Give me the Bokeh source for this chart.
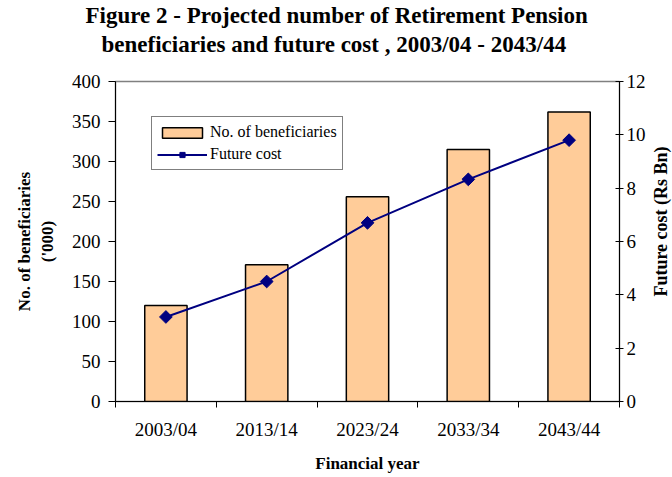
import math
from bokeh.plotting import figure
from bokeh.models import (Range1d, LinearAxis, FixedTicker, Title, Label, Legend, LegendItem,
                          ColumnDataSource)
from bokeh.embed import file_html
from bokeh.resources import INLINE

# ---- data ----
years = ["2003/04", "2013/14", "2023/24", "2033/34", "2043/44"]
beneficiaries = [120, 171, 256, 315, 362]          # '000
future_cost = [3.17, 4.5, 6.7, 8.33, 9.8]          # Rs Bn
left_ticks = [0, 50, 100, 150, 200, 250, 300, 350, 400]
right_ticks = [0, 2, 4, 6, 8, 10, 12]

title_1 = "Figure 2 - Projected number of Retirement Pension"
title_2 = "beneficiaries and future cost , 2003/04 - 2043/44"
left_title = "No. of beneficiaries\n('000)"
right_title = "Future cost (Rs Bn)"

FONT = "Liberation Serif"

idx = list(range(len(years)))
src = ColumnDataSource(dict(x=idx, year=years, ben=beneficiaries, cost=future_cost))

p = figure(width=672, height=477, frame_width=504, frame_height=320,
           output_backend="svg", toolbar_location=None,
           x_range=Range1d(-0.5, len(years) - 0.5), y_range=Range1d(0, 400),
           min_border_left=115, min_border_top=10, min_border_right=53, min_border_bottom=60)
p.extra_y_ranges = {"cost": Range1d(0, 12)}

p.background_fill_color = "white"
p.border_fill_color = "white"
p.outline_line_color = "#808080"
p.outline_line_width = 1.5
p.xgrid.visible = False
p.ygrid.visible = False

bars = p.vbar(x="x", top="ben", width=0.42, source=src,
              fill_color="#FFCC99", line_color="black", line_width=1.5)
ln = p.line(x="x", y="cost", source=src, y_range_name="cost",
            line_color="#000080", line_width=2)
mk = p.scatter(x="x", y="cost", source=src, y_range_name="cost",
               marker="square", angle=math.pi / 4, size=9,
               fill_color="#000080", line_color="#000080")

# x axis
xa = p.xaxis[0]
xa.ticker = FixedTicker(ticks=idx, minor_ticks=[i - 0.5 for i in range(len(years) + 1)])
xa.major_label_overrides = {i: y for i, y in zip(idx, years)}
xa.major_tick_out = 0
xa.major_tick_in = 0
xa.minor_tick_out = 6
xa.minor_tick_in = 0
xa.minor_tick_line_color = "black"
xa.axis_line_color = "black"
xa.major_label_standoff = 11
xa.major_label_text_font = FONT
xa.major_label_text_font_size = "19px"
xa.major_label_text_color = "black"
xa.axis_label = "Financial year"
xa.axis_label_text_font = FONT
xa.axis_label_text_font_size = "17px"
xa.axis_label_text_font_style = "bold"
xa.axis_label_text_color = "black"
xa.axis_label_standoff = 11

# left axis
ya = p.yaxis[0]
ya.ticker = FixedTicker(ticks=left_ticks)
ya.minor_tick_line_color = None
ya.major_tick_out = 7
ya.major_tick_in = 0
ya.major_tick_line_color = "black"
ya.axis_line_color = "black"
ya.major_label_standoff = 8
ya.major_label_text_font = FONT
ya.major_label_text_font_size = "19px"
ya.major_label_text_color = "black"
ya.axis_label = left_title
ya.axis_label_text_font = FONT
ya.axis_label_text_font_size = "17px"
ya.axis_label_text_font_style = "bold"
ya.axis_label_text_color = "black"
ya.axis_label_standoff = 12

# right axis (ticks + numbers)
ra = LinearAxis(y_range_name="cost", ticker=FixedTicker(ticks=right_ticks))
ra.minor_tick_line_color = None
ra.major_tick_out = 4
ra.major_tick_in = 4
ra.major_tick_line_color = "black"
ra.axis_line_color = "black"
ra.major_label_standoff = 3
ra.major_label_text_font = FONT
ra.major_label_text_font_size = "19px"
ra.major_label_text_color = "black"
p.add_layout(ra, "right")

# right axis title, reading bottom-to-top, in the right-hand panel
p.add_layout(Label(x=12, y=180, x_units="screen", y_units="screen", angle=math.pi / 2,
                   text=right_title, text_font=FONT, text_font_size="18px",
                   text_font_style="bold", text_color="black",
                   text_align="center", text_baseline="middle"), "right")

# title lines (first added = nearest the plot)
p.add_layout(Title(text=" ", text_font_size="1px", standoff=20), "above")
p.add_layout(Title(text=title_2, text_font=FONT, text_font_size="23px", text_font_style="bold",
                   text_color="black", align="left", offset=-14, standoff=4), "above")
p.add_layout(Title(text=title_1, text_font=FONT, text_font_size="23px", text_font_style="bold",
                   text_color="black", align="left", offset=-30, standoff=0), "above")

legend = Legend(items=[LegendItem(label="No. of beneficiaries", renderers=[bars]),
                       LegendItem(label="Future cost", renderers=[ln, mk])],
                location=(36, 231), orientation="vertical",
                border_line_color="black", border_line_width=1,
                background_fill_color="white", background_fill_alpha=1.0,
                label_text_font=FONT, label_text_font_size="16px", label_text_color="black",
                glyph_width=50, glyph_height=13, label_height=20, label_standoff=3,
                spacing=2, padding=5, margin=0)
p.add_layout(legend, "center")

open("out.html", "w").write(file_html(p, INLINE))
